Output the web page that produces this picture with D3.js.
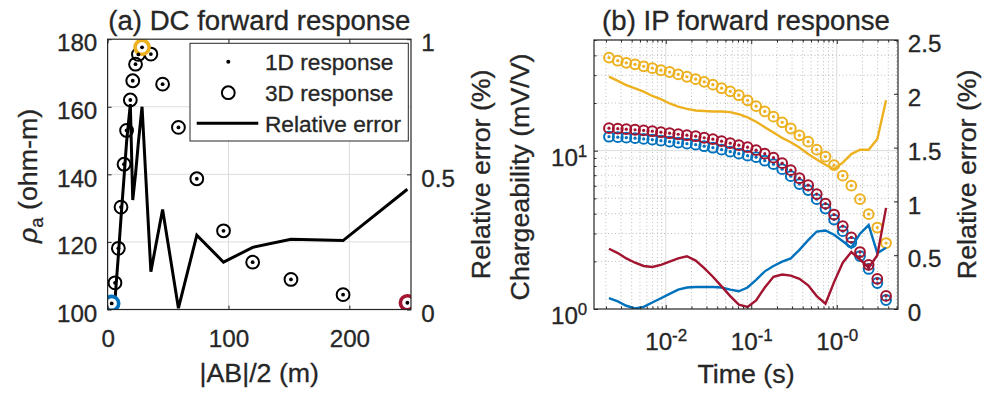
<!DOCTYPE html>
<html>
<head>
<meta charset="utf-8">
<title>DC / IP forward response</title>
<script src="https://cdn.jsdelivr.net/npm/d3@7"></script>
<style>
  body { margin: 0; background: #fff; }
  svg text { font-family: "Liberation Sans", Arial, sans-serif; fill: #262626; stroke: #262626; stroke-width: 0.3px; }
</style>
</head>
<body>
<svg id="fig" width="989" height="403"></svg>
<script>
// ---------- data: (a) DC sounding ----------
var abHalf  = [3.4, 6.1, 8.9, 11.1, 13.6, 15.7, 18.8, 20.8, 23.1, 25.5, 28.5, 35.8, 45.5, 58.6, 73.8, 95.9, 120, 151.7, 194.8, 248];
var rhoApp  = [101.8, 107.9, 118.1, 130.3, 143.0, 153.0, 162.0, 167.7, 172.6, 175.5, 177.6, 175.6, 166.7, 153.9, 138.7, 123.3, 114.0, 108.9, 104.4, 102.0];
var dcRelErr = [0.01, 0.035, 0.20, 0.34, 0.49, 0.62, 0.76, 0.405, 0.50, 0.62, 0.75, 0.14, 0.37, 0.005, 0.275, 0.175, 0.23, 0.26, 0.255, 0.445];
var dcMarked = [0, 10, 19];   // soundings shown in panel (b)
var dcXTicks = [0, 100, 200];
var dcYTicks = [100, 120, 140, 160, 180];
var dcErrTicks = [0, 0.5, 1];
var dcErrLabels = ["0", "0.5", "1"];

// ---------- data: (b) IP decay ----------
var times = [0.00217, 0.00275, 0.00346, 0.00438, 0.00552, 0.00697, 0.00879, 0.0111, 0.0140, 0.0177, 0.0224,
             0.0282, 0.0356, 0.0450, 0.0568, 0.0716, 0.0906, 0.114, 0.144, 0.182, 0.230, 0.290,
             0.366, 0.463, 0.583, 0.738, 0.930, 1.175, 1.48, 1.87, 2.36, 2.98, 3.77];
var mBlue   = [12.25, 12.17, 12.08, 11.99, 11.87, 11.73, 11.56, 11.40, 11.23, 11.07, 10.91, 10.67, 10.44, 10.15, 9.86, 9.57,
               9.30, 9.10, 8.65, 8.22, 7.64, 6.90, 6.15, 5.64, 4.94, 4.31, 3.67, 3.10, 2.63, 2.16, 1.79, 1.46, 1.14];
var mYellow = [38.7, 37.0, 35.9, 35.1, 34.1, 33.2, 32.2, 31.4, 30.3, 29.3, 28.3, 27.2, 26.1, 24.8, 23.7, 22.4,
               20.8, 19.1, 17.7, 16.4, 15.1, 13.8, 12.5, 11.4, 10.15, 9.17, 8.10, 6.95, 6.01, 4.94, 3.97, 3.27, 2.61];
var mRed    = [13.87, 13.77, 13.67, 13.56, 13.43, 13.27, 13.08, 12.89, 12.70, 12.52, 12.34, 12.07, 11.82, 11.48, 11.15, 10.83,
               10.52, 10.07, 9.57, 9.03, 8.34, 7.53, 6.70, 6.05, 5.32, 4.63, 3.95, 3.34, 2.83, 2.29, 1.90, 1.55, 1.21];
var errBlue   = [0.10, 0.07, 0.03, 0.005, 0.02, 0.06, 0.10, 0.14, 0.18, 0.20, 0.205, 0.205, 0.205, 0.20, 0.18, 0.165,
                 0.20, 0.27, 0.35, 0.40, 0.44, 0.47, 0.55, 0.64, 0.72, 0.73, 0.69, 0.63, 0.57, 0.70, 0.78, 0.52, 0.57];
var errYellow = [2.16, 2.12, 2.08, 2.05, 2.02, 1.98, 1.95, 1.91, 1.88, 1.86, 1.845, 1.84, 1.835, 1.835, 1.83, 1.81,
                 1.78, 1.74, 1.69, 1.64, 1.59, 1.55, 1.50, 1.44, 1.39, 1.34, 1.30, 1.36, 1.44, 1.48, 1.48, 1.58, 1.94];
var errRed    = [0.56, 0.52, 0.47, 0.43, 0.40, 0.39, 0.41, 0.44, 0.47, 0.49, 0.45, 0.38, 0.30, 0.21, 0.12, 0.04,
                 0.02, 0.08, 0.20, 0.30, 0.32, 0.31, 0.28, 0.22, 0.12, 0.05, 0.25, 0.43, 0.53, 0.46, 0.385, 0.50, 0.94];
var ipXTicks = [0.01, 0.1, 1];
var ipXExp = ["-2", "-1", "-0"];
var ipYTicks = [1, 10];
var ipYExp = ["0", "1"];
var ipErrTicks = [0, 0.5, 1, 1.5, 2, 2.5];
var ipErrLabels = ["0", "0.5", "1", "1.5", "2", "2.5"];

// ---------- look ----------
var SX = 1.03;              // text in the picture runs a bit wider than Arial
var TICK = 23.5, LAB = 26, TITLE = 26.8, LEG = 22;
var ink = "#262626";
var colors = ["#0072BD", "#EDB120", "#A2142F"];   // blue, yellow, red

var svg = d3.select("#fig");

function styleAxis(sel) {
    sel.attr("font-size", TICK).attr("font-family", null).style("color", ink);
    sel.select(".domain").remove();
    sel.selectAll(".tick line").attr("stroke-width", 1);
    sel.selectAll(".tick text").attr("transform", "scale(" + SX + ",1)");
}

function addText(g, x, y, rot, size) {
    var tr = "translate(" + x + "," + y + ")" + (rot ? " rotate(" + rot + ")" : "") + " scale(" + SX + ",1)";
    return g.append("text").attr("transform", tr).attr("text-anchor", "middle").attr("font-size", size);
}

function isDecade(d) {
    var l = Math.log10(d);
    return Math.abs(l - Math.round(l)) < 1e-9;
}

// ================= panel (a) =================
var xA = d3.scaleLinear().domain([0, 251]).range([107.6, 411]);
var yA = d3.scaleLinear().domain([100, 180]).range([309.5, 39.2]);
var eA = d3.scaleLinear().domain([0, 1]).range([309.5, 39.2]);
var pa = svg.append("g");

svg.append("clipPath").attr("id", "clipA").append("rect")
    .attr("x", xA.range()[0]).attr("y", yA.range()[1])
    .attr("width", xA.range()[1] - xA.range()[0]).attr("height", yA.range()[0] - yA.range()[1]);

pa.selectAll(".gv").data(dcXTicks.slice(1)).enter().append("line")
    .attr("x1", function(d) { return xA(d); }).attr("x2", function(d) { return xA(d); })
    .attr("y1", yA.range()[1]).attr("y2", yA.range()[0])
    .attr("stroke", "#dcdcdc");
pa.selectAll(".gh").data(dcYTicks.slice(1, -1)).enter().append("line")
    .attr("y1", function(d) { return yA(d); }).attr("y2", function(d) { return yA(d); })
    .attr("x1", xA.range()[0]).attr("x2", xA.range()[1])
    .attr("stroke", "#dcdcdc");

var dA = pa.append("g").attr("clip-path", "url(#clipA)");
dA.selectAll(".c3").data(abHalf).enter().append("circle")
    .attr("cx", function(d) { return xA(d); })
    .attr("cy", function(d, i) { return yA(rhoApp[i]); })
    .attr("r", 6.4).attr("fill", "none").attr("stroke", "#000").attr("stroke-width", 2);
dA.append("path").datum(dcRelErr)
    .attr("d", d3.line().x(function(d, i) { return xA(abHalf[i]); }).y(function(d) { return eA(d); }))
    .attr("fill", "none").attr("stroke", "#000").attr("stroke-width", 3).attr("stroke-linejoin", "miter");
dA.selectAll(".cm").data(dcMarked).enter().append("circle")
    .attr("cx", function(d) { return xA(abHalf[d]); })
    .attr("cy", function(d) { return yA(rhoApp[d]); })
    .attr("r", 7).attr("fill", "#fff")
    .attr("stroke", function(d, i) { return colors[i]; }).attr("stroke-width", 3.6);
dA.selectAll(".d1").data(abHalf).enter().append("circle")
    .attr("cx", function(d) { return xA(d); })
    .attr("cy", function(d, i) { return yA(rhoApp[i]); })
    .attr("r", 1.9).attr("fill", "#000");

pa.append("g").attr("transform", "translate(0," + yA.range()[0] + ")")
    .call(d3.axisBottom(xA).tickValues(dcXTicks).tickSizeInner(-4).tickSizeOuter(0).tickPadding(20.8).tickFormat(d3.format("d")))
    .call(styleAxis);
pa.append("g").attr("transform", "translate(0," + yA.range()[1] + ")")
    .call(d3.axisTop(xA).tickValues(dcXTicks).tickSizeInner(-4).tickSizeOuter(0).tickFormat(""))
    .call(styleAxis);
pa.append("g").attr("transform", "translate(" + xA.range()[0] + ",0)")
    .call(d3.axisLeft(yA).tickValues(dcYTicks).tickSizeInner(-4).tickSizeOuter(0).tickPadding(10))
    .call(styleAxis)
    .selectAll(".tick text").attr("dy", "0.5em");
pa.append("g").attr("transform", "translate(" + xA.range()[1] + ",0)")
    .call(d3.axisRight(eA).tickValues(dcErrTicks).tickSizeInner(-4).tickSizeOuter(0).tickPadding(10)
        .tickFormat(function(d, i) { return dcErrLabels[i]; }))
    .call(styleAxis)
    .selectAll(".tick text").attr("dy", "0.5em");

pa.append("rect")
    .attr("x", xA.range()[0]).attr("y", yA.range()[1])
    .attr("width", xA.range()[1] - xA.range()[0]).attr("height", yA.range()[0] - yA.range()[1])
    .attr("fill", "none").attr("stroke", ink).attr("stroke-width", 1.2);

// legend
var lg = pa.append("g");
lg.append("rect").attr("x", 190).attr("y", 43.3).attr("width", 218.3).attr("height", 97.7)
    .attr("fill", "#fff").attr("stroke", ink).attr("stroke-width", 1);
lg.append("circle").attr("cx", 228.3).attr("cy", 61.7).attr("r", 2).attr("fill", "#000");
lg.append("circle").attr("cx", 228.3).attr("cy", 92.7).attr("r", 6.4)
    .attr("fill", "none").attr("stroke", "#000").attr("stroke-width", 2);
lg.append("line").attr("x1", 196.7).attr("x2", 258.3).attr("y1", 123.3).attr("y2", 123.3)
    .attr("stroke", "#000").attr("stroke-width", 3);
[["1D response", 70], ["3D response", 101], ["Relative error", 131.7]].forEach(function(t) {
    addText(lg, 265, t[1], 0, LEG).attr("text-anchor", "start").text(t[0]);
});

addText(pa, 259.3, 29.5, 0, TITLE).text("(a) DC forward response");
addText(pa, 259.3, 382, 0, LAB).text("|AB|/2 (m)");
var yl = addText(pa, 37, 176, -90, LAB);
yl.append("tspan").style("font-style", "italic").text("ρ");
yl.append("tspan").attr("dy", "0.32em").attr("font-size", 18).text("a");
yl.append("tspan").attr("dy", "-0.22em").text(" (ohm-m)");
addText(pa, 489.5, 174.3, -90, LAB).text("Relative error (%)");

// ================= panel (b) =================
var xB = d3.scaleLog().domain([0.00145, 5.2]).range([594, 898]);
var yB = d3.scaleLog().domain([1, 50]).range([309, 40]);
var eB = d3.scaleLinear().domain([0, 2.5]).range([309, 40]);
var pb = svg.append("g");
var minorX = xB.ticks().filter(function(d) { return !isDecade(d); });
var minorY = yB.ticks().filter(function(d) { return !isDecade(d); });

svg.append("clipPath").attr("id", "clipB").append("rect")
    .attr("x", xB.range()[0]).attr("y", yB.range()[1])
    .attr("width", xB.range()[1] - xB.range()[0]).attr("height", yB.range()[0] - yB.range()[1]);

pb.selectAll(".mgv").data(minorX).enter().append("line")
    .attr("x1", function(d) { return xB(d); }).attr("x2", function(d) { return xB(d); })
    .attr("y1", yB.range()[1]).attr("y2", yB.range()[0])
    .attr("stroke", "#bdbdbd").attr("stroke-dasharray", "1 2.5");
pb.selectAll(".mgh").data(minorY).enter().append("line")
    .attr("y1", function(d) { return yB(d); }).attr("y2", function(d) { return yB(d); })
    .attr("x1", xB.range()[0]).attr("x2", xB.range()[1])
    .attr("stroke", "#bdbdbd").attr("stroke-dasharray", "1 2.5");
pb.selectAll(".gv").data(ipXTicks).enter().append("line")
    .attr("x1", function(d) { return xB(d); }).attr("x2", function(d) { return xB(d); })
    .attr("y1", yB.range()[1]).attr("y2", yB.range()[0])
    .attr("stroke", "#dcdcdc");
pb.selectAll(".gh").data(ipYTicks.slice(1)).enter().append("line")
    .attr("y1", function(d) { return yB(d); }).attr("y2", function(d) { return yB(d); })
    .attr("x1", xB.range()[0]).attr("x2", xB.range()[1])
    .attr("stroke", "#dcdcdc");

var series = [
    { m: mBlue, e: errBlue, c: colors[0] },
    { m: mYellow, e: errYellow, c: colors[1] },
    { m: mRed, e: errRed, c: colors[2] }
];
var dB = pb.append("g").attr("clip-path", "url(#clipB)");
series.forEach(function(s) {
    var g = dB.append("g");
    g.selectAll(".c3").data(s.m).enter().append("circle")
        .attr("cx", function(d, i) { return xB(times[i]); })
        .attr("cy", function(d) { return yB(d); })
        .attr("r", 4.9).attr("fill", "none").attr("stroke", s.c).attr("stroke-width", 2);
    g.selectAll(".d1").data(s.m).enter().append("circle")
        .attr("cx", function(d, i) { return xB(times[i]); })
        .attr("cy", function(d) { return yB(d); })
        .attr("r", 1.6).attr("fill", s.c);
});
series.forEach(function(s) {
    dB.append("path").datum(s.e)
        .attr("d", d3.line().x(function(d, i) { return xB(times[i]); }).y(function(d) { return eB(d); }))
        .attr("fill", "none").attr("stroke", s.c).attr("stroke-width", 2.4);
});

var axB = pb.append("g").attr("transform", "translate(0," + yB.range()[0] + ")")
    .call(d3.axisBottom(xB).tickValues(ipXTicks).tickSizeInner(-4).tickSizeOuter(0).tickFormat(""))
    .call(styleAxis);
axB.selectAll(".tick text").each(function(d, i) {
    var t = d3.select(this).attr("dy", null).attr("y", 41);
    t.append("tspan").text("10");
    t.append("tspan").attr("dy", "-0.55em").attr("font-size", 16.5).text(ipXExp[i]);
});
pb.append("g").attr("transform", "translate(0," + yB.range()[0] + ")")
    .call(d3.axisBottom(xB).tickValues(minorX).tickSizeInner(-2.5).tickSizeOuter(0).tickFormat(""))
    .call(styleAxis);
pb.append("g").attr("transform", "translate(0," + yB.range()[1] + ")")
    .call(d3.axisTop(xB).tickValues(ipXTicks).tickSizeInner(-4).tickSizeOuter(0).tickFormat(""))
    .call(styleAxis);
pb.append("g").attr("transform", "translate(0," + yB.range()[1] + ")")
    .call(d3.axisTop(xB).tickValues(minorX).tickSizeInner(-2.5).tickSizeOuter(0).tickFormat(""))
    .call(styleAxis);

var ayB = pb.append("g").attr("transform", "translate(" + xB.range()[0] + ",0)")
    .call(d3.axisLeft(yB).tickValues(ipYTicks).tickSizeInner(-4).tickSizeOuter(0).tickPadding(6.5).tickFormat(""))
    .call(styleAxis);
ayB.selectAll(".tick text").each(function(d, i) {
    var t = d3.select(this).attr("dy", "0.62em");
    t.append("tspan").text("10");
    t.append("tspan").attr("dy", "-0.55em").attr("font-size", 16.5).text(ipYExp[i]);
});
pb.append("g").attr("transform", "translate(" + xB.range()[0] + ",0)")
    .call(d3.axisLeft(yB).tickValues(minorY).tickSizeInner(-2.5).tickSizeOuter(0).tickFormat(""))
    .call(styleAxis);
pb.append("g").attr("transform", "translate(" + xB.range()[1] + ",0)")
    .call(d3.axisRight(eB).tickValues(ipErrTicks).tickSizeInner(-4).tickSizeOuter(0).tickPadding(9.5)
        .tickFormat(function(d, i) { return ipErrLabels[i]; }))
    .call(styleAxis)
    .selectAll(".tick text").attr("dy", "0.5em");

pb.append("rect")
    .attr("x", xB.range()[0]).attr("y", yB.range()[1])
    .attr("width", xB.range()[1] - xB.range()[0]).attr("height", yB.range()[0] - yB.range()[1])
    .attr("fill", "none").attr("stroke", ink).attr("stroke-width", 1.2);

addText(pb, 746, 29.5, 0, TITLE).text("(b) IP forward response");
addText(pb, 746, 383, 0, LAB).text("Time (s)");
addText(pb, 529, 177, -90, LAB).text("Chargeability (mV/V)");
addText(pb, 976, 174.3, -90, LAB).text("Relative error (%)");
</script>
</body>
</html>
